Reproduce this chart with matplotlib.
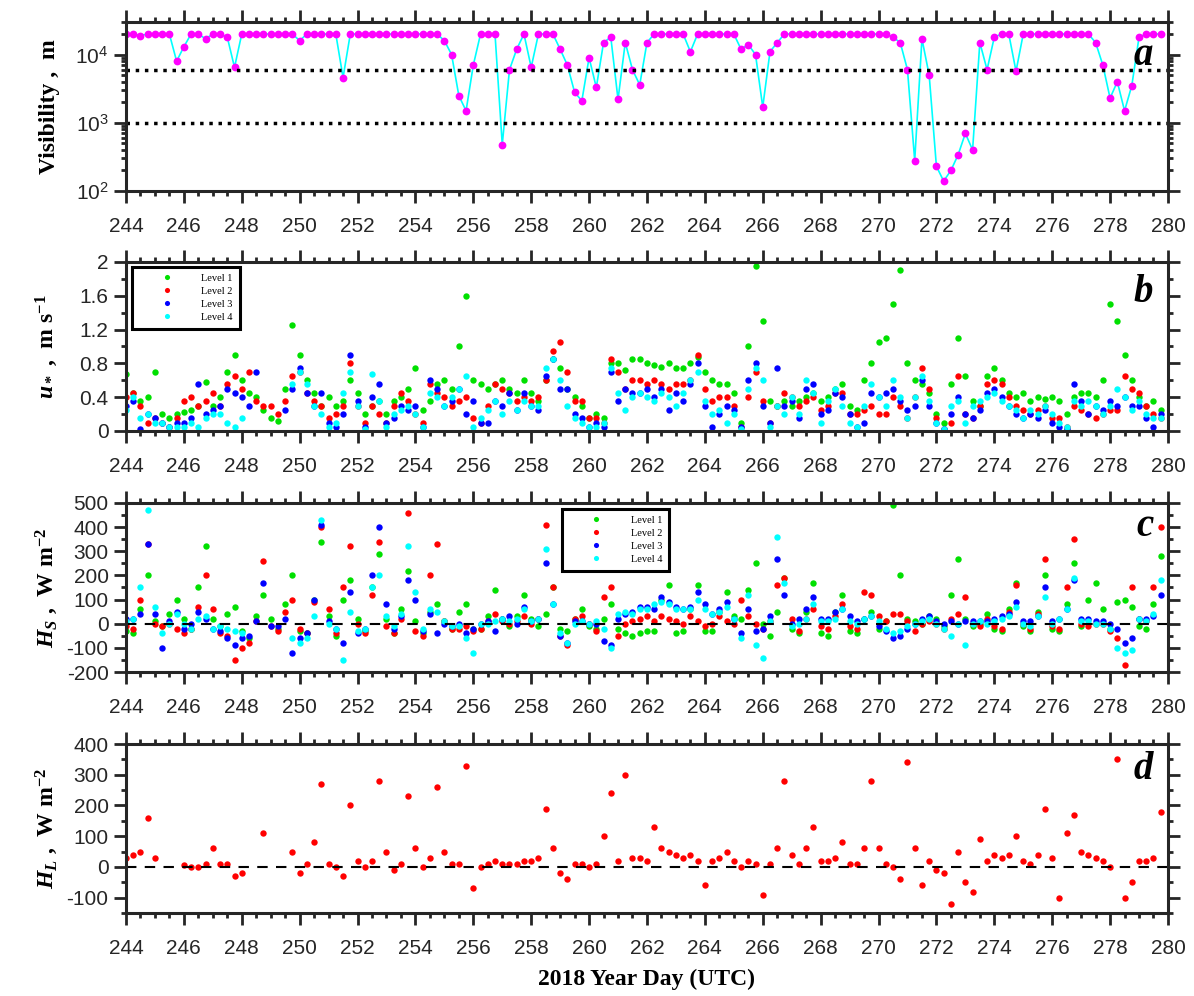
import numpy as np
import matplotlib.pyplot as plt
from matplotlib.ticker import MultipleLocator, FormatStrFormatter, LogLocator, NullFormatter

plt.rcParams['font.family'] = 'Liberation Sans'
plt.rcParams['axes.unicode_minus'] = False
plt.rcParams['mathtext.fontset'] = 'custom'
plt.rcParams['mathtext.rm'] = 'Liberation Serif:bold'
plt.rcParams['mathtext.it'] = 'Liberation Serif:italic:bold'
plt.rcParams['mathtext.bf'] = 'Liberation Serif:bold'

nan = np.nan

# 6-hourly samples, year day 244.00 .. 279.75
day = 244 + 0.25 * np.arange(144)

# visibility (m)
vis = [20000, 20000, 19000, 20000, 20000, 20000, 20000, 8000,    # 244-245
       13000, 20000, 20000, 17000, 20000, 20000, 18000, 6500,    # 246-247
       20000, 20000, 20000, 20000, 20000, 20000, 20000, 20000,   # 248-249
       16000, 20000, 20000, 20000, 20000, 20000, 4600, 20000,    # 250-251
       20000, 20000, 20000, 20000, 20000, 20000, 20000, 20000,   # 252-253
       20000, 20000, 20000, 20000, 16000, 10000, 2500, 1500,     # 254-255
       7000, 20000, 20000, 20000, 480, 6000, 12000, 20000,       # 256-257
       6500, 20000, 20000, 20000, 12000, 7000, 2800, 2100,       # 258-259
       9000, 3300, 15000, 18000, 2200, 15000, 6000, 3600,        # 260-261
       15000, 20000, 20000, 20000, 20000, 20000, 11000, 20000,   # 262-263
       20000, 20000, 20000, 20000, 20000, 12000, 14000, 10000,   # 264-265
       1700, 11000, 15000, 20000, 20000, 20000, 20000, 20000,    # 266-267
       20000, 20000, 20000, 20000, 20000, 20000, 20000, 20000,   # 268-269
       20000, 20000, 18000, 15000, 6000, 280, 17000, 5000,       # 270-271
       230, 140, 200, 340, 700, 400, 15000, 6000,                # 272-273
       18000, 20000, 20000, 5700, 20000, 20000, 20000, 20000,    # 274-275
       20000, 20000, 20000, 20000, 20000, 20000, 15000, 7000,    # 276-277
       2300, 4000, 1500, 3500, 18000, 20000, 20000, 20000]       # 278-279

# friction velocity u* (m/s), levels 1-4
ustar1 = [0.68, 0.45, 0.35, 0.40, 0.70, 0.20, 0.15, 0.20,
          0.22, 0.25, 0.30, 0.58, 0.30, 0.40, 0.70, 0.90,
          0.60, 0.45, 0.40, 0.25, 0.15, 0.12, 0.50, 1.25,
          0.90, 0.60, 0.45, 0.30, 0.40, 0.30, 0.35, 0.60,
          0.45, 0.20, 0.30, 0.35, 0.20, 0.35, 0.40, 0.50,
          0.75, 0.25, 0.35, 0.55, 0.60, 0.50, 1.00, 1.60,
          0.60, 0.55, 0.50, 0.55, 0.60, 0.50, 0.45, 0.60,
          0.45, 0.35, 0.60, 0.85, 0.75, 0.50, 0.40, 0.30,
          0.15, 0.20, 0.15, 0.80, 0.80, 0.72, 0.85, 0.85,
          0.80, 0.78, 0.76, 0.80, 0.75, 0.75, 0.80, 0.88,
          0.70, 0.60, 0.55, 0.55, 0.45, 0.10, 1.00, 1.95,
          1.30, 0.35, 0.30, 0.35, 0.30, 0.35, 0.40, 0.45,
          0.35, 0.40, 0.50, 0.55, 0.30, 0.25, 0.60, 0.80,
          1.05, 1.10, 1.50, 1.90, 0.80, 0.60, 0.55, 0.45,
          0.20, 0.10, 0.55, 1.10, 0.65, 0.35, 0.30, 0.65,
          0.75, 0.60, 0.45, 0.40, 0.45, 0.35, 0.40, 0.38,
          0.40, 0.35, 0.20, 0.40, 0.45, 0.45, 0.40, 0.60,
          1.50, 1.30, 0.90, 0.60, 0.40, 0.30, 0.35, 0.25]
ustar2 = [0.40, 0.45, 0.30, 0.10, 0.15, 0.10, 0.05, 0.15,
          0.35, 0.40, 0.30, 0.35, 0.45, 0.30, 0.55, 0.65,
          0.50, 0.70, 0.35, 0.30, 0.30, 0.20, 0.35, 0.65,
          0.70, 0.45, 0.35, 0.30, 0.15, 0.20, 0.30, 0.80,
          0.30, 0.10, 0.30, 0.20, 0.10, 0.30, 0.45, 0.35,
          0.20, 0.10, 0.55, 0.45, 0.40, 0.30, 0.35, 0.40,
          0.15, 0.10, 0.30, 0.55, 0.50, 0.45, 0.35, 0.40,
          0.35, 0.40, 0.60, 0.95, 1.05, 0.70, 0.35, 0.35,
          0.15, 0.15, 0.10, 0.85, 0.70, 0.50, 0.60, 0.60,
          0.55, 0.60, 0.55, 0.50, 0.55, 0.55, 0.60, 0.90,
          0.50, 0.35, 0.40, 0.40, 0.30, 0.05, 0.40, 0.70,
          0.35, 0.10, 0.30, 0.45, 0.40, 0.30, 0.35, 0.40,
          0.25, 0.30, 0.45, 0.45, 0.20, 0.20, 0.25, 0.30,
          0.20, 0.20, 0.40, 0.30, 0.15, 0.40, 0.75, 0.50,
          0.15, 0.02, 0.10, 0.65, 0.20, 0.15, 0.30, 0.55,
          0.60, 0.55, 0.40, 0.30, 0.25, 0.20, 0.25, 0.30,
          0.15, 0.15, 0.05, 0.30, 0.25, 0.20, 0.15, 0.20,
          0.25, 0.25, 0.65, 0.50, 0.45, 0.30, 0.20, 0.15]
ustar3 = [0.30, 0.35, 0.02, 0.20, 0.15, 0.10, 0.05, 0.10,
          0.10, 0.15, 0.55, 0.20, 0.25, 0.30, 0.50, 0.45,
          0.40, 0.30, 0.70, nan, nan, nan, 0.25, 0.50,
          0.75, 0.45, 0.30, 0.45, 0.10, 0.05, 0.20, 0.90,
          0.35, 0.05, 0.40, 0.55, 0.10, 0.15, 0.30, 0.25,
          0.30, 0.05, 0.60, 0.50, 0.30, 0.35, 0.50, 0.20,
          0.35, 0.10, 0.10, 0.35, 0.30, 0.45, 0.25, 0.45,
          0.30, 0.25, 0.65, 0.85, 0.50, 0.50, 0.20, 0.15,
          0.05, 0.10, 0.05, 0.70, 0.35, 0.50, 0.45, 0.45,
          0.50, 0.40, 0.50, 0.25, 0.45, 0.35, 0.55, 0.80,
          0.30, 0.05, 0.20, 0.30, 0.25, 0.05, 0.60, 0.80,
          0.30, 0.10, 0.75, 0.30, 0.35, 0.15, 0.50, 0.55,
          0.20, 0.25, 0.45, 0.40, 0.20, 0.05, 0.10, 0.45,
          0.40, 0.45, 0.50, 0.35, 0.25, 0.30, 0.60, 0.30,
          0.10, 0.02, 0.20, 0.40, 0.20, 0.15, 0.25, 0.45,
          0.50, 0.40, 0.30, 0.20, 0.15, 0.20, 0.15, 0.25,
          0.10, 0.05, 0.02, 0.55, 0.35, 0.20, 0.30, 0.25,
          0.35, 0.30, 0.40, 0.30, 0.30, 0.15, 0.05, 0.20]
ustar4 = [0.25, 0.40, 0.15, 0.20, 0.10, 0.10, 0.05, 0.05,
          0.05, 0.10, 0.05, 0.15, 0.20, 0.20, 0.10, 0.05,
          0.15, nan, nan, nan, nan, nan, nan, 0.55,
          0.70, 0.55, 0.30, 0.20, 0.05, 0.10, 0.45, 0.70,
          0.30, 0.02, 0.68, 0.35, 0.05, 0.20, 0.25, 0.30,
          0.20, 0.05, 0.45, 0.40, 0.30, 0.40, 0.50, 0.65,
          0.05, 0.15, 0.25, 0.35, 0.20, 0.35, 0.25, 0.35,
          0.30, 0.30, 0.75, 0.85, 0.60, 0.30, 0.15, 0.10,
          0.05, 0.05, 0.10, 0.75, 0.45, 0.25, 0.40, 0.45,
          0.40, 0.35, 0.45, 0.40, 0.30, 0.45, 0.60, 0.70,
          0.35, 0.20, 0.25, 0.10, 0.20, 0.02, 0.50, 0.75,
          0.60, 0.05, 0.30, 0.20, 0.40, 0.20, 0.60, 0.45,
          0.10, 0.35, 0.50, 0.30, 0.10, 0.05, 0.30, 0.55,
          0.40, 0.30, 0.60, 0.40, 0.15, 0.40, 0.65, 0.35,
          0.10, 0.02, 0.30, 0.35, 0.10, 0.30, 0.35, 0.40,
          0.45, 0.35, 0.30, 0.25, 0.15, 0.25, 0.20, 0.30,
          0.20, 0.10, 0.05, 0.35, 0.30, 0.35, 0.30, 0.20,
          0.30, 0.50, 0.40, 0.25, 0.35, 0.20, 0.15, 0.15]

# sensible heat flux H_S (W/m2), levels 1-4
hs1 = [-30, -40, 60, 200, 10, -10, 40, 100,
       20, -20, 150, 320, 20, -10, 40, 70,
       -30, -60, 30, 120, 20, -20, 80, 200,
       -30, -40, 100, 340, 30, -50, 100, 180,
       20, -30, 150, 290, 20, -40, 60, 220,
       10, -40, 50, 80, 10, -20, 50, 80,
       -20, -20, 30, 140, 20, -10, 30, 120,
       20, -10, 40, 150, -20, -30, 20, 60,
       -10, -20, 20, 80, -20, -40, -50, -40,
       -30, -30, 100, 160, -40, -30, 60, 160,
       -30, -30, 50, 130, 30, 20, 140, 250,
       0, -50, 50, 190, -20, -40, 50, 170,
       -40, -50, 50, 120, -30, -40, 20, 50,
       -20, 10, 490, 200, 20, 10, 0, 30,
       20, -10, 120, 270, 20, -10, 0, 40,
       -20, -30, 60, 170, -10, -30, 50, 200,
       -20, -30, 80, 250, -10, 100, 170, 60,
       -20, 90, 100, 70, -10, -20, 80, 280]
hs2 = [-10, -20, 100, 330, 0, -10, 0, -20,
       -40, -20, 70, 200, 60, -40, -50, -150,
       -100, -80, 10, 260, -10, -30, 50, 100,
       -20, -40, 90, 400, 60, -40, 150, 320,
       0, -40, 120, 340, -10, -40, 20, 460,
       -30, -50, 200, 330, 10, -20, -20, -10,
       -30, -20, 10, 40, 10, 0, 10, 30,
       0, 20, 410, 150, -50, -90, 20, 30,
       0, -30, 110, 150, -50, 0, 10, 20,
       30, 10, 30, 20, 10, 0, 30, 10,
       -10, 0, 30, 10, 0, 100, 30, 0,
       -20, 10, 160, 190, 20, -30, 20, 60,
       -10, -20, 30, 80, -10, -20, 130, 120,
       30, 10, 40, 40, 10, -30, 0, 10,
       0, -20, 20, 40, 110, 0, -10, 20,
       -10, -20, 50, 160, 0, -20, 40, 270,
       -10, -20, 150, 350, 0, -10, 0, 0,
       -30, -60, -170, 150, 20, 10, 150, 400]
hs3 = [20, 20, 40, 330, 40, -100, 10, 50,
       -20, 0, 50, 20, -20, -30, -60, -90,
       -60, -50, 10, 170, -10, -10, 20, -120,
       -60, -40, 100, 410, 10, -20, -80, 130,
       -40, -20, 200, 400, 80, -20, 30, 180,
       100, -30, 40, -40, 0, -10, 0, -40,
       -20, 0, 10, -30, 20, 30, 0, 70,
       10, 20, 250, 80, -50, -80, 10, 10,
       0, 0, -70, -90, 20, 40, 50, 70,
       70, 60, 110, 90, 70, 60, 70, 130,
       80, 40, 60, 90, 20, -40, 60, -30,
       -20, 30, 270, 120, 0, 20, 60, 110,
       20, 20, 50, 60, 30, 10, 20, 30,
       -10, -30, -60, -50, -20, 0, 20, 30,
       10, 0, 10, 0, 10, 10, 10, 10,
       20, 30, 40, 90, 10, 10, 30, 150,
       10, 20, 60, 180, 20, 20, 10, 10,
       0, -20, -80, -60, 20, 20, 30, 120]
hs4 = [10, 20, 150, 470, 70, -40, 0, 40,
       0, -20, 20, 30, -20, -10, -20, -30,
       -40, nan, nan, nan, nan, nan, nan, -60,
       -80, -60, 30, 430, 0, -20, -150, 50,
       -30, -20, 150, 200, 30, -10, 40, 320,
       130, -20, 60, 50, 10, -10, -10, -60,
       -120, 0, 0, 10, 20, 10, 20, 60,
       10, 20, 310, 80, -40, -80, 0, 10,
       0, 10, -20, -100, 40, 50, 40, 60,
       60, 80, 90, 80, 60, 60, 60, 100,
       60, 40, 50, 70, 20, -60, 120, -90,
       -140, 10, 360, 170, -10, 0, 20, 80,
       10, 10, 20, 60, 10, 0, 20, 30,
       10, -20, -40, -30, -10, 0, 10, 20,
       0, -20, -50, 0, -90, 0, 10, 0,
       10, 20, 30, 70, 0, -10, 30, 110,
       0, 20, 60, 190, 10, 10, 0, 0,
       -20, -100, -120, -110, 20, 10, 40, 180]

# latent heat flux H_L (W/m2)
hl = [30, 40, 50, 160, 30, nan, nan, nan,
      5, 0, 0, 10, 60, 10, 10, -30,
      -20, nan, nan, 110, nan, nan, nan, 50,
      -20, 10, 80, 270, 10, 0, -30, 200,
      20, 0, 20, 280, 50, -10, 10, 230,
      60, 0, 30, 260, 50, 10, 10, 330,
      -70, 0, 10, 20, 10, 10, 10, 20,
      20, 30, 190, 60, -20, -40, 10, 10,
      0, 10, 100, 240, 20, 300, 30, 30,
      20, 130, 60, 50, 40, 30, 40, 20,
      -60, 20, 30, 50, 20, 0, 20, 10,
      -90, 10, 60, 280, 40, 10, 60, 130,
      20, 20, 30, 80, 10, 10, 60, 280,
      60, 10, 0, -40, 340, 60, -60, 20,
      -10, -20, -120, 50, -50, -80, 90, 20,
      40, 30, 40, 100, 20, 10, 40, 190,
      30, -100, 110, 170, 50, 40, 30, 20,
      0, 350, -100, -50, 20, 20, 30, 180]

levels = ['Level 1', 'Level 2', 'Level 3', 'Level 4']
level_colors = ['#00e000', 'red', 'blue', 'cyan']
ink = '#262626'
serif = 'Liberation Serif'


def style(ax):
    for s in ax.spines.values():
        s.set_linewidth(2.2)
        s.set_color(ink)
    ax.set_xlim(244, 280)
    ax.xaxis.set_major_locator(MultipleLocator(2))
    ax.xaxis.set_minor_locator(MultipleLocator(0.5))
    ax.tick_params(which='both', direction='out', top=True, right=True,
                   width=2, color=ink, labelcolor=ink, labelsize=15)
    ax.tick_params(which='major', length=8.5)
    ax.tick_params(which='minor', length=3.5)
    ax.tick_params(axis='x', which='both', pad=10)
    ax.tick_params(axis='y', which='both', pad=4)


def dots(ax, y, c, label=None):
    ax.plot(day, y, 'o', color=c, ms=4.6, mec='none', label=label)


def panel_letter(ax, s, y):
    ax.text(0.986, y, s, transform=ax.transAxes, ha='right', va='center',
            family=serif, style='italic', weight='bold', fontsize=28)


def level_legend(ax, anchor):
    leg = ax.legend(loc='upper left', bbox_to_anchor=anchor, fancybox=False,
                    edgecolor='black', framealpha=1, numpoints=1, markerscale=0.8,
                    handlelength=5.4, handletextpad=0.6, borderpad=0.65,
                    labelspacing=0.35, borderaxespad=0,
                    prop={'family': serif, 'size': 7.5})
    leg.get_frame().set_linewidth(2.2)


fig = plt.figure(figsize=(11.94, 9.96), dpi=100)
left, width, height = 0.1055, 0.8727, 0.1697
label_x = -0.063

# a: visibility
ax = fig.add_axes([left, 0.8082, width, height])
ax.semilogy(day, vis, '-', color='cyan', lw=1.2)
ax.semilogy(day, vis, 'o', color='magenta', ms=5.6, mec='none')
ax.axhline(6000, color='black', ls=':', lw=2.5)
ax.axhline(1000, color='black', ls=':', lw=2.5)
ax.set_ylim(100, 30000)
style(ax)
ax.yaxis.set_major_locator(LogLocator(base=10, numticks=10))
ax.yaxis.set_minor_locator(LogLocator(base=10, subs=np.arange(2, 10), numticks=10))
ax.yaxis.set_minor_formatter(NullFormatter())
ax.set_ylabel('Visibility ,  m', family=serif, weight='bold', fontsize=17)
ax.yaxis.set_label_coords(label_x, 0.5)
panel_letter(ax, 'a', 0.80)

# b: friction velocity
ax = fig.add_axes([left, 0.5673, width, height])
for y, c, lab in zip([ustar1, ustar2, ustar3, ustar4], level_colors, levels):
    dots(ax, y, c, lab)
ax.set_ylim(0, 2)
style(ax)
ax.yaxis.set_major_locator(MultipleLocator(0.4))
ax.yaxis.set_minor_locator(MultipleLocator(0.2))
ax.yaxis.set_major_formatter(FormatStrFormatter('%g'))
ax.set_ylabel(r'$u_*$ ,  m s$^{-1}$', family=serif, weight='bold', fontsize=17)
ax.yaxis.set_label_coords(label_x, 0.5)
level_legend(ax, (0.006, 0.97))
panel_letter(ax, 'b', 0.82)

# c: sensible heat flux
ax = fig.add_axes([left, 0.3253, width, height])
for y, c, lab in zip([hs1, hs2, hs3, hs4], level_colors, levels):
    dots(ax, y, c, lab)
ax.axhline(0, color='black', ls=(0, (5, 4)), lw=1.5)
ax.set_ylim(-200, 500)
style(ax)
ax.yaxis.set_major_locator(MultipleLocator(100))
ax.yaxis.set_minor_locator(MultipleLocator(50))
ax.set_ylabel(r'$H_S$ ,  W m$^{-2}$', family=serif, weight='bold', fontsize=17)
ax.yaxis.set_label_coords(label_x, 0.5)
level_legend(ax, (0.418, 0.964))
panel_letter(ax, 'c', 0.86)

# d: latent heat flux
ax = fig.add_axes([left, 0.0833, width, height])
dots(ax, hl, 'red')
ax.axhline(0, color='black', ls=(0, (5, 4)), lw=1.5)
ax.set_ylim(-150, 400)
style(ax)
ax.yaxis.set_major_locator(MultipleLocator(100))
ax.yaxis.set_minor_locator(MultipleLocator(50))
ax.set_ylabel(r'$H_L$ ,  W m$^{-2}$', family=serif, weight='bold', fontsize=17)
ax.yaxis.set_label_coords(label_x, 0.5)
ax.set_xlabel('2018 Year Day (UTC)', family=serif, weight='bold', fontsize=17,
              labelpad=8)
panel_letter(ax, 'd', 0.85)

fig.savefig('out.png', dpi=100)
